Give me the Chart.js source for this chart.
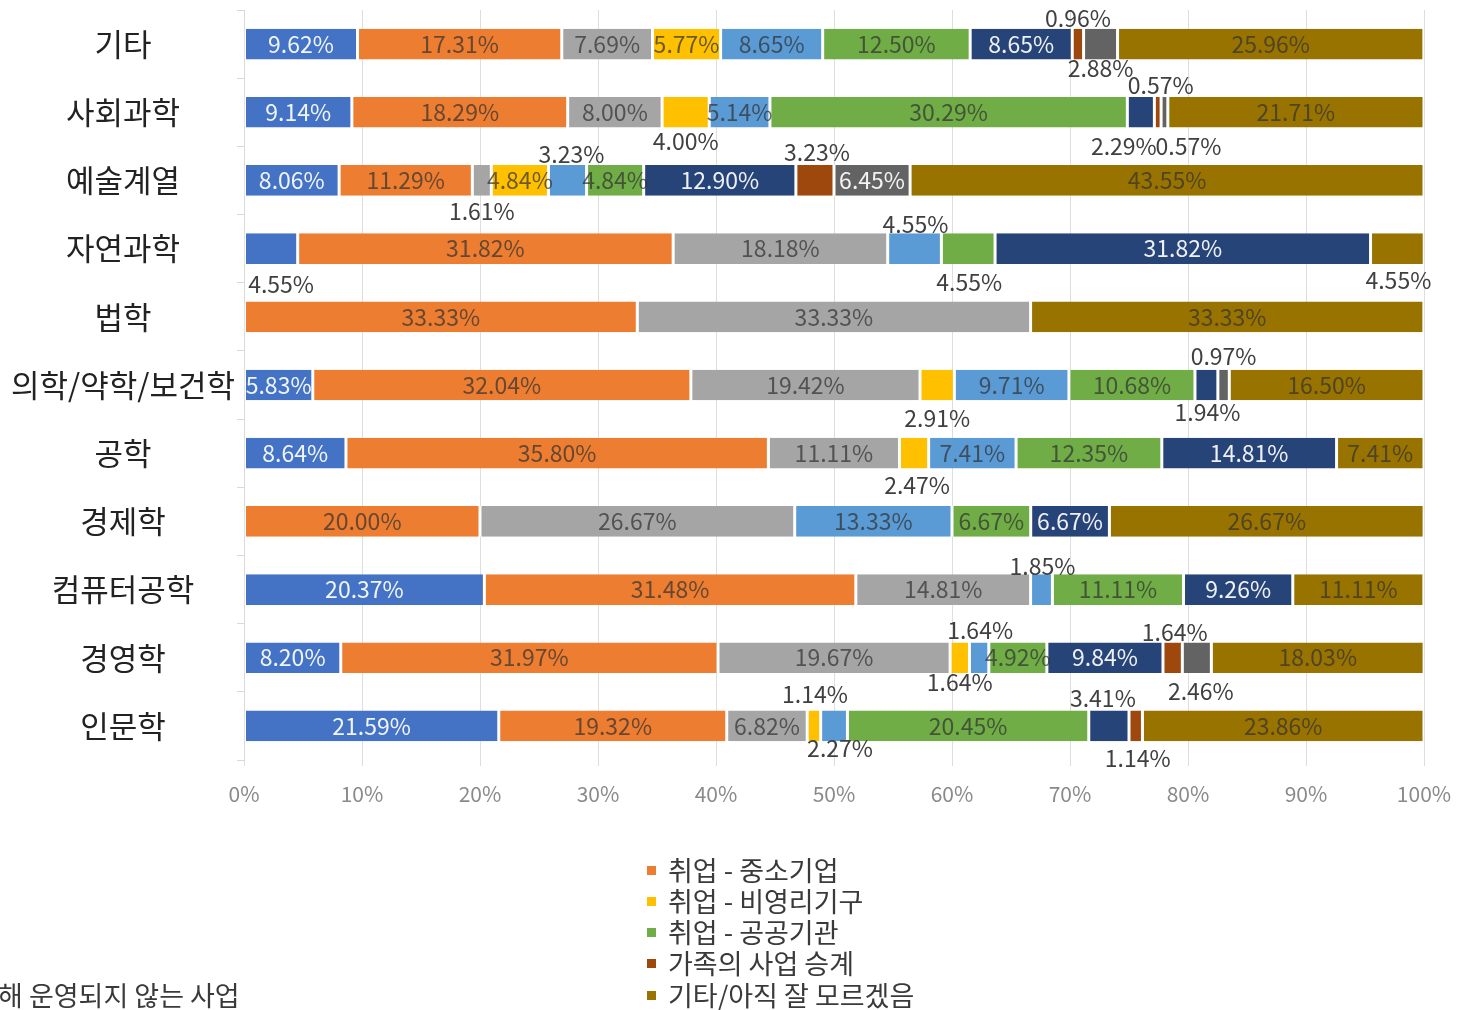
<!DOCTYPE html>
<html><head><meta charset="utf-8">
<script src="https://cdn.jsdelivr.net/npm/chart.js@4.4.1/dist/chart.umd.min.js"></script>
<style>
html,body{margin:0;padding:0;background:#fff;overflow:hidden;}
#wrap{position:relative;width:1470px;height:1010px;overflow:hidden;}
#c{position:absolute;left:0;top:0;}
.lg{position:absolute;font-family:"Noto Sans CJK KR","Noto Sans",sans-serif;font-size:27px;color:#3a3a3a;white-space:nowrap;line-height:30px;height:30px;}
.mk{position:absolute;width:9px;height:9px;}
</style></head><body>
<div id="wrap"><canvas id="c" width="1470" height="1010"></canvas><div id="legend"></div></div>
<script>
// ---- data ----
const categories = ['기타','사회과학','예술계열','자연과학','법학','의학/약학/보건학','공학','경제학','컴퓨터공학','경영학','인문학'];
const seriesNames = ['', '취업 - 중소기업', '', '취업 - 비영리기구', '', '취업 - 공공기관', '', '가족의 사업 승계', '해 운영되지 않는 사업', '기타/아직 잘 모르겠음'];
const seriesColors = ['#4472C4','#ED7D31','#A5A5A5','#FFC000','#5B9BD5','#70AD47','#264478','#9E480E','#636363','#997300'];
const seriesBlue      = [9.62, 9.14, 8.06, 4.55, null, 5.83, 8.64, null, 20.37, 8.20, 21.59];
const seriesOrange    = [17.31, 18.29, 11.29, 31.82, 33.33, 32.04, 35.80, 20.00, 31.48, 31.97, 19.32];
const seriesGray      = [7.69, 8.00, 1.61, 18.18, 33.33, 19.42, 11.11, 26.67, 14.81, 19.67, 6.82];
const seriesYellow    = [5.77, 4.00, 4.84, null, null, 2.91, 2.47, null, null, 1.64, 1.14];
const seriesLightBlue = [8.65, 5.14, 3.23, 4.55, null, 9.71, 7.41, 13.33, 1.85, 1.64, 2.27];
const seriesGreen     = [12.50, 30.29, 4.84, 4.55, null, 10.68, 12.35, 6.67, 11.11, 4.92, 20.45];
const seriesDarkBlue  = [8.65, 2.29, 12.90, 31.82, null, 1.94, 14.81, 6.67, 9.26, 9.84, 3.41];
const seriesBrown     = [0.96, 0.57, 3.23, null, null, null, null, null, null, 1.64, 1.14];
const seriesDarkGray  = [2.88, 0.57, 6.45, null, null, 0.97, null, null, null, 2.46, null];
const seriesOlive     = [25.96, 21.71, 43.55, 4.55, 33.33, 16.50, 7.41, 26.67, 11.11, 18.03, 23.86];
const seriesValues = [seriesBlue, seriesOrange, seriesGray, seriesYellow, seriesLightBlue, seriesGreen, seriesDarkBlue, seriesBrown, seriesDarkGray, seriesOlive];
const xTicks = [0,10,20,30,40,50,60,70,80,90,100];

// ---- label layout (outside labels: [dx, dy] from segment centre) ----
const outsideLabels = {
  '기타|7':[0,-26], '기타|8':[0,24],
  '사회과학|3':[0,29], '사회과학|6':[-17,34], '사회과학|7':[3,-27], '사회과학|8':[24,34],
  '예술계열|2':[0,31], '예술계열|4':[4,-26], '예술계열|7':[2,-28],
  '자연과학|0':[10,36], '자연과학|4':[1,-24], '자연과학|5':[1,34], '자연과학|9':[1,32],
  '의학/약학/보건학|3':[0,33], '의학/약학/보건학|6':[1,27], '의학/약학/보건학|8':[0,-29],
  '공학|3':[3,32],
  '컴퓨터공학|4':[1,-23],
  '경영학|3':[0,25], '경영학|4':[1,-27], '경영학|7':[2,-25], '경영학|8':[4,34],
  '인문학|3':[1,-32], '인문학|4':[6,22], '인문학|6':[-6,-28], '인문학|7':[2,32]
};
const whiteTextSeries = [0, 6, 8];
const FONT = '"Noto Sans CJK KR","Noto Sans",sans-serif';

const labelPlugin = {
  id: 'pctLabels',
  afterDatasetsDraw(chart) {
    const ctx = chart.ctx;
    ctx.save();
    ctx.font = '23px ' + FONT;
    ctx.textAlign = 'center';
    ctx.textBaseline = 'middle';
    chart.data.datasets.forEach((ds, si) => {
      const meta = chart.getDatasetMeta(si);
      meta.data.forEach((el, ci) => {
        const v = ds.data[ci];
        if (v == null) return;
        const txt = v.toFixed(2) + '%';
        const cx = (el.x + el.base) / 2, cy = el.y;
        const off = outsideLabels[categories[ci] + '|' + si];
        if (off) {
          ctx.fillStyle = '#404040';
          ctx.fillText(txt, cx + off[0], cy + off[1]);
        } else {
          ctx.fillStyle = whiteTextSeries.includes(si) ? 'rgba(255,255,255,0.92)' : 'rgba(50,50,50,0.72)';
          ctx.fillText(txt, cx, cy);
        }
      });
    });
    ctx.restore();
  }
};

Chart.defaults.font.family = FONT;
new Chart(document.getElementById('c'), {
  type: 'bar',
  data: {
    labels: categories,
    datasets: seriesValues.map((vals, i) => ({
      label: seriesNames[i],
      data: vals,
      backgroundColor: seriesColors[i],
      borderColor: '#ffffff',
      borderWidth: {left: 1.5, right: 1.5, top: 0, bottom: 0},
      borderSkipped: false,
      categoryPercentage: 1,
      barPercentage: 0.45
    }))
  },
  options: {
    indexAxis: 'y',
    responsive: false,
    animation: false,
    layout: {padding: {top: 10, right: 46, bottom: 0, left: 0}},
    plugins: {legend: {display: false}, tooltip: {enabled: false}},
    scales: {
      x: {
        stacked: true, min: 0, max: 100,
        afterFit: s => { s.height = 250; s.paddingLeft = 0; s.paddingRight = 0; },
        afterBuildTicks: s => { s.ticks = xTicks.map(v => ({value: v})); },
        ticks: {callback: v => v + '%', color: '#8a8a8a', font: {size: 21}, padding: 15, maxRotation: 0},
        grid: {color: '#dedede', lineWidth: 1, tickLength: 6, drawTicks: true},
        border: {display: false}
      },
      y: {
        stacked: true,
        afterFit: s => { s.width = 244; s.paddingTop = 0; s.paddingBottom = 0; },
        ticks: {color: '#222222', font: {size: 31}, crossAlign: 'center', padding: 2, autoSkip: false},
        grid: {drawOnChartArea: false, tickLength: 7, color: '#d9d9d9'},
        border: {color: '#d9d9d9'}
      }
    }
  },
  plugins: [labelPlugin]
});

// ---- legend (HTML) ----
const legend = document.getElementById('legend');
const rightItems = [1, 3, 5, 7, 9];
const rowY = [870, 901, 932, 963, 995];
rightItems.forEach((si, r) => {
  const mk = document.createElement('div');
  mk.className = 'mk';
  mk.style.left = '647px'; mk.style.top = (rowY[r] - 4) + 'px';
  mk.style.background = seriesColors[si];
  legend.appendChild(mk);
  const t = document.createElement('div');
  t.className = 'lg';
  t.style.left = '668px'; t.style.top = (rowY[r] - 15) + 'px';
  t.textContent = seriesNames[si];
  legend.appendChild(t);
});
const lt = document.createElement('div');
lt.className = 'lg';
lt.style.left = '-2px'; lt.style.top = (rowY[4] - 15) + 'px';
lt.textContent = seriesNames[8];
legend.appendChild(lt);
</script>
</body></html>
